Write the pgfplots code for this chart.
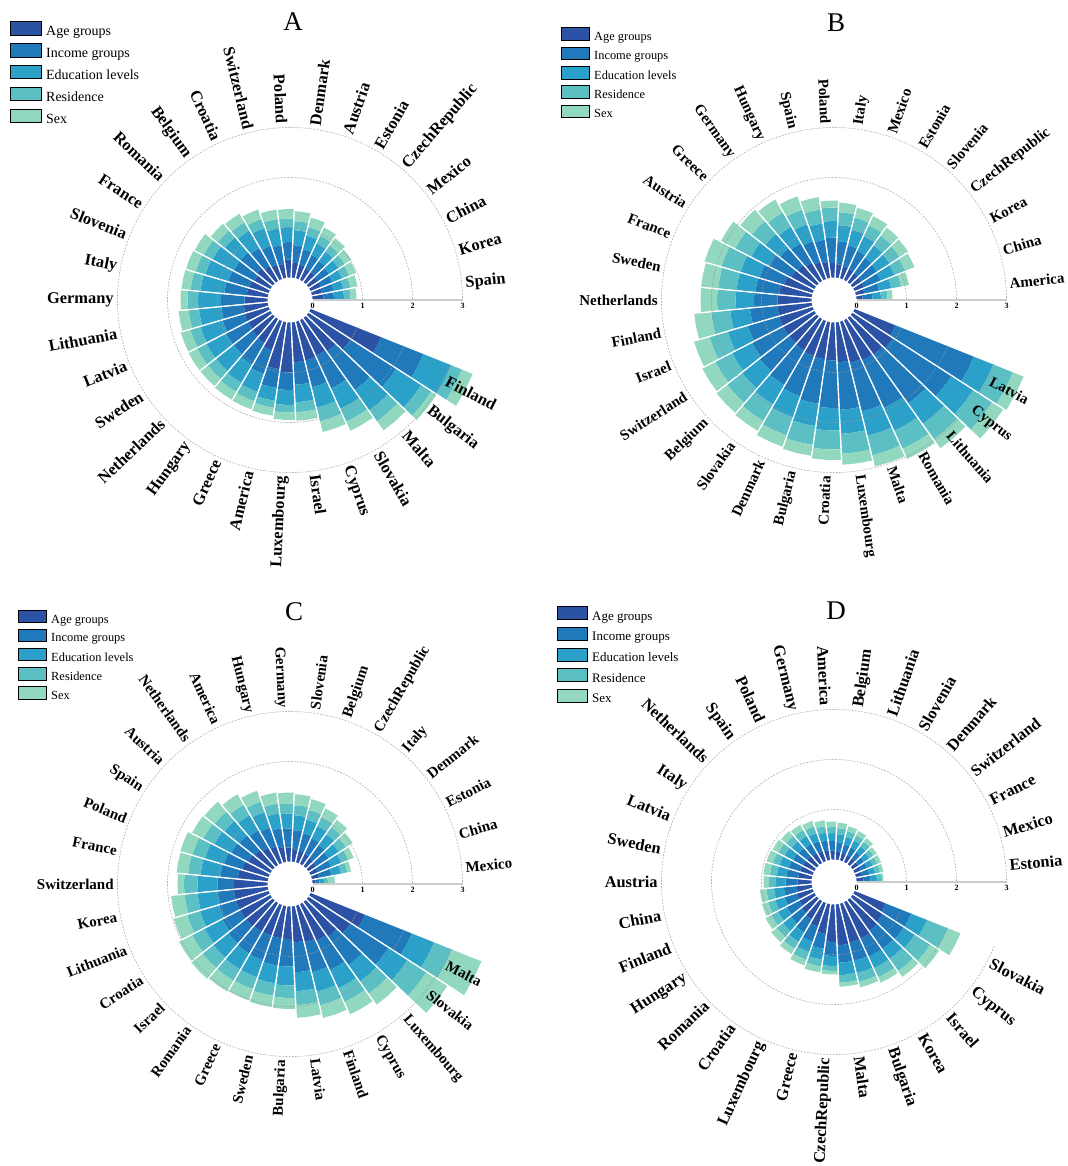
\documentclass[border=0pt]{standalone}
\usepackage{pgfplots}
\usepackage{pgfplotstable}
\pgfplotsset{compat=1.18}
\usepackage{fontspec}
\setmainfont{Liberation Serif}

\definecolor{cAge}{HTML}{2B52A4}
\definecolor{cInc}{HTML}{1F79BB}
\definecolor{cEdu}{HTML}{2BA1C9}
\definecolor{cRes}{HTML}{5BBFC3}
\definecolor{cSex}{HTML}{92D8BE}
\definecolor{cGrid}{HTML}{9A9A9A}

\newcommand\labA{\fontsize{8.2}{9}\selectfont\bfseries}
\newcommand\labB{\fontsize{7.5}{8.5}\selectfont\bfseries}
\newcommand\tickfont{\fontsize{4}{4.5}\selectfont\bfseries}

\pgfplotstableread{
name a b c d e
Finland 1.52 0.91 0.60 0.23 0.23
Bulgaria 1.00 1.08 0.60 0.24 0.12
Malta 0.82 0.95 0.50 0.27 0.22
Slovakia 0.78 0.72 0.45 0.28 0.20
Cyprus 0.80 0.55 0.42 0.28 0.22
Israel 0.80 0.45 0.35 0.20 0.17
Luxembourg 1.00 0.35 0.30 0.15 0.15
America 0.95 0.38 0.26 0.14 0.16
Greece 0.62 0.50 0.38 0.20 0.17
Hungary 0.55 0.50 0.42 0.21 0.18
Netherlands 0.52 0.48 0.44 0.21 0.19
Sweden 0.50 0.50 0.44 0.21 0.19
Latvia 0.50 0.46 0.46 0.21 0.20
Lithuania 0.48 0.45 0.45 0.21 0.20
Germany 0.46 0.47 0.46 0.21 0.14
Italy 0.42 0.45 0.48 0.20 0.18
Slovenia 0.40 0.44 0.48 0.20 0.20
France 0.36 0.46 0.48 0.20 0.20
Romania 0.40 0.42 0.40 0.18 0.18
Belgium 0.34 0.42 0.40 0.19 0.20
Croatia 0.30 0.40 0.38 0.19 0.20
Switzerland 0.28 0.38 0.34 0.19 0.19
Poland 0.36 0.35 0.30 0.17 0.19
Denmark 0.30 0.35 0.30 0.18 0.20
Austria 0.28 0.32 0.28 0.17 0.20
Estonia 0.25 0.30 0.25 0.17 0.18
CzechRepublic 0.25 0.27 0.23 0.15 0.18
Mexico 0.22 0.27 0.22 0.15 0.16
China 0.22 0.25 0.21 0.15 0.15
Korea 0.20 0.24 0.20 0.14 0.15
Spain 0.22 0.21 0.20 0.13 0.12
}\tabA

\pgfplotstableread{
name a b c d e
Latvia 0.88 1.69 0.42 0.42 0.23
Cyprus 0.95 1.40 0.52 0.45 0.26
Lithuania 0.90 1.20 0.50 0.38 0.22
Romania 0.88 1.05 0.50 0.40 0.22
Malta 0.85 1.00 0.50 0.40 0.23
Luxembourg 0.80 0.95 0.48 0.40 0.22
Croatia 0.76 0.95 0.45 0.38 0.21
Bulgaria 0.75 0.90 0.45 0.38 0.22
Denmark 0.74 0.85 0.45 0.38 0.24
Slovakia 0.72 0.80 0.45 0.38 0.23
Belgium 0.70 0.75 0.45 0.38 0.27
Switzerland 0.70 0.70 0.45 0.38 0.29
Israel 0.70 0.65 0.42 0.38 0.32
Finland 0.69 0.55 0.40 0.38 0.34
Netherlands 0.68 0.47 0.37 0.37 0.33
Sweden 0.65 0.48 0.38 0.37 0.34
France 0.60 0.50 0.40 0.40 0.35
Austria 0.52 0.50 0.40 0.36 0.32
Greece 0.48 0.45 0.38 0.34 0.30
Germany 0.42 0.45 0.38 0.33 0.30
Hungary 0.36 0.44 0.36 0.31 0.28
Spain 0.32 0.45 0.33 0.28 0.25
Poland 0.29 0.51 0.33 0.27 0.14
Italy 0.27 0.46 0.32 0.26 0.19
Mexico 0.25 0.43 0.32 0.25 0.20
Estonia 0.24 0.40 0.32 0.24 0.20
Slovenia 0.22 0.38 0.30 0.24 0.20
CzechRepublic 0.21 0.37 0.30 0.24 0.20
Korea 0.20 0.36 0.30 0.23 0.20
China 0.17 0.30 0.25 0.20 0.16
America 0.12 0.20 0.17 0.13 0.10
}\tabB

\pgfplotstableread{
name a b c d e
Malta 1.17 1.01 0.48 0.39 0.63
Slovakia 1.00 0.90 0.45 0.45 0.50
Luxembourg 0.85 0.70 0.40 0.30 0.27
Cyprus 0.80 0.65 0.40 0.30 0.27
Finland 0.75 0.62 0.40 0.28 0.26
Latvia 0.72 0.60 0.38 0.28 0.25
Bulgaria 0.65 0.55 0.38 0.25 0.22
Sweden 0.65 0.55 0.36 0.25 0.23
Greece 0.65 0.52 0.36 0.25 0.24
Romania 0.66 0.50 0.37 0.26 0.25
Israel 0.68 0.45 0.38 0.28 0.28
Croatia 0.68 0.40 0.40 0.28 0.29
Lithuania 0.68 0.35 0.40 0.27 0.28
Korea 0.68 0.33 0.40 0.26 0.27
Switzerland 0.67 0.33 0.40 0.27 0.13
France 0.60 0.35 0.40 0.25 0.23
Poland 0.55 0.38 0.40 0.26 0.25
Spain 0.50 0.38 0.38 0.25 0.25
Austria 0.45 0.40 0.38 0.25 0.26
Netherlands 0.40 0.40 0.35 0.24 0.24
America 0.35 0.40 0.33 0.22 0.23
Hungary 0.30 0.38 0.30 0.20 0.22
Germany 0.28 0.38 0.30 0.20 0.22
Slovenia 0.25 0.38 0.30 0.20 0.22
Belgium 0.24 0.36 0.28 0.20 0.22
CzechRepublic 0.22 0.34 0.27 0.20 0.19
Italy 0.20 0.32 0.26 0.18 0.18
Denmark 0.18 0.30 0.24 0.17 0.16
Estonia 0.16 0.28 0.22 0.15 0.12
China 0.14 0.26 0.19 0.13 0.08
Mexico 0.06 0.08 0.09 0.08 0.14
}\tabC

\pgfplotstableread{
name a b c d e
Slovakia 0.67 0.55 0.34 0.45 0.27
Cyprus 0.72 0.50 0.26 0.37 0.21
Israel 0.75 0.45 0.25 0.30 0.14
Korea 0.80 0.40 0.25 0.20 0.12
Bulgaria 0.80 0.38 0.25 0.18 0.11
Malta 0.82 0.35 0.25 0.15 0.08
CzechRepublic 0.75 0.28 0.20 0.10 0.07
Greece 0.60 0.30 0.22 0.14 0.12
Luxembourg 0.50 0.32 0.22 0.16 0.12
Croatia 0.42 0.30 0.22 0.16 0.12
Romania 0.38 0.28 0.20 0.16 0.14
Hungary 0.34 0.28 0.20 0.15 0.13
Finland 0.32 0.26 0.20 0.15 0.13
China 0.30 0.26 0.20 0.15 0.13
Austria 0.28 0.24 0.19 0.14 0.11
Sweden 0.27 0.24 0.19 0.14 0.13
Latvia 0.26 0.24 0.19 0.14 0.13
Italy 0.25 0.23 0.19 0.14 0.13
Netherlands 0.24 0.22 0.18 0.14 0.13
Spain 0.22 0.22 0.18 0.14 0.12
Poland 0.20 0.22 0.17 0.14 0.12
Germany 0.19 0.20 0.16 0.13 0.12
America 0.18 0.19 0.16 0.12 0.11
Belgium 0.17 0.18 0.16 0.12 0.11
Lithuania 0.16 0.17 0.15 0.12 0.10
Slovenia 0.15 0.17 0.15 0.11 0.10
Denmark 0.14 0.16 0.14 0.11 0.09
Switzerland 0.13 0.14 0.13 0.10 0.08
France 0.13 0.14 0.12 0.10 0.08
Mexico 0.13 0.14 0.12 0.10 0.07
Estonia 0.14 0.14 0.13 0.10 0.03
}\tabD

\newcommand{\polyseg}[3]{%
  \edef\tmp{\noexpand\addplot[fill=#1, draw=none, data cs=polar, forget plot] coordinates {(\tone,#2) (\tone,#3) (\tmid,#3) (\ttwo,#3) (\ttwo,#2) (\tmid,#2)};}\tmp}

\newcommand{\getangles}{%
  \pgfmathsetmacro{\tone}{-(\k+2)*360/33}%
  \pgfmathsetmacro{\tmid}{-(\k+2.5)*360/33}%
  \pgfmathsetmacro{\ttwo}{-(\k+3)*360/33}}

\newcommand{\getradii}[1]{%
  \pgfplotstablegetelem{\k}{a}\of{#1}\pgfmathsetmacro{\rA}{0.45+\pgfplotsretval}%
  \pgfplotstablegetelem{\k}{b}\of{#1}\pgfmathsetmacro{\rB}{\rA+\pgfplotsretval}%
  \pgfplotstablegetelem{\k}{c}\of{#1}\pgfmathsetmacro{\rC}{\rB+\pgfplotsretval}%
  \pgfplotstablegetelem{\k}{d}\of{#1}\pgfmathsetmacro{\rD}{\rC+\pgfplotsretval}%
  \pgfplotstablegetelem{\k}{e}\of{#1}\pgfmathsetmacro{\rE}{\rD+\pgfplotsretval}}

\newcommand{\drawpanel}[2]{%
  \pgfplotsforeachungrouped \k in {0,...,30}{%
    \getangles\getradii{#1}%
    \polyseg{cAge}{0.45}{\rA}\polyseg{cInc}{\rA}{\rB}\polyseg{cEdu}{\rB}{\rC}%
    \polyseg{cRes}{\rC}{\rD}\polyseg{cSex}{\rD}{\rE}%
  }%
  \pgfplotsforeachungrouped \k in {0,...,30}{%
    \getangles\getradii{#1}%
    \edef\tmp{\noexpand\addplot[draw=white, line width=0.55pt, data cs=polar, forget plot] coordinates {(\tone,0.44) (\tone,\rE)};}\tmp
    \edef\tmp{\noexpand\addplot[draw=white, line width=0.55pt, data cs=polar, forget plot] coordinates {(\ttwo,0.44) (\ttwo,\rE)};}\tmp
  }%
  \draw[cGrid, line width=0.3pt, dash pattern=on 0.9pt off 0.7pt, opacity=0.8] (axis cs:1.3461,-0.5390) arc[start angle=-21.818, end angle=-360, radius=36.25pt];
  \draw[cGrid, line width=0.3pt, dash pattern=on 0.9pt off 0.7pt, opacity=0.8] (axis cs:2.2745,-0.9108) arc[start angle=-21.818, end angle=-360, radius=61.25pt];
  \draw[cGrid, line width=0.3pt, dash pattern=on 0.9pt off 0.7pt, opacity=0.8] (axis cs:3.2028,-1.2825) arc[start angle=-21.818, end angle=-360, radius=86.25pt];
  \addplot[draw=gray!40, line width=0.6pt, forget plot] coordinates {(0.45,0) (3.45,0)};
  \node[font=\tickfont, inner sep=0pt] at (axis cs:0.45,-0.11) {0};
  \node[font=\tickfont, inner sep=0pt] at (axis cs:1.45,-0.11) {1};
  \node[font=\tickfont, inner sep=0pt] at (axis cs:2.45,-0.11) {2};
  \node[font=\tickfont, inner sep=0pt] at (axis cs:3.45,-0.11) {3};
  \pgfplotsforeachungrouped \k in {0,...,30}{%
    \getangles
    \pgfplotstablegetelem{\k}{name}\of{#1}\let\cname\pgfplotsretval
    \pgfmathsetmacro{\lx}{3.52*cos(\tmid)}%
    \pgfmathsetmacro{\ly}{3.52*sin(\tmid)}%
    \pgfmathtruncatemacro{\side}{(\tmid>-90)+(\tmid<-270)}%
    \ifnum\side>0
      \pgfmathsetmacro{\rot}{\tmid+360*(\tmid<-270)}\def\anc{west}%
    \else
      \pgfmathsetmacro{\rot}{\tmid+180}\def\anc{east}%
    \fi
    \edef\tmp{\noexpand\node[rotate=\rot, anchor=\anc, inner sep=0pt, font=\noexpand#2] at (axis cs:\lx,\ly) {\cname};}\tmp
  }%
  \addlegendimage{fill=cAge}\addlegendentry{Age groups}
  \addlegendimage{fill=cInc}\addlegendentry{Income groups}
  \addlegendimage{fill=cEdu}\addlegendentry{Education levels}
  \addlegendimage{fill=cRes}\addlegendentry{Residence}
  \addlegendimage{fill=cSex}\addlegendentry{Sex}
}

\pgfplotsset{panel/.style={
  x=25pt, y=25pt, xmin=-6, xmax=6, ymin=-6, ymax=6,
  hide axis, clip=false, anchor=center,
  legend cell align=left,
  legend style={draw=none, fill=none, anchor=north west, inner sep=0pt,
    nodes={inner xsep=2pt, inner ysep=0pt}},
}}

\begin{document}
\begin{tikzpicture}
\path[use as bounding box] (0,0) rectangle (533.5pt,-583pt);

\begin{axis}[panel, at={(145pt,-150pt)},
  legend image code/.code={\fill[#1] (0pt,-1.3pt) rectangle (15.5pt,5.5pt);},
  legend style={at={(0.0333,0.9650)}, font=\fontsize{7}{8}\selectfont, row sep=2.1pt}]
\drawpanel{\tabA}{\labA}
\node[font=\fontsize{13.5}{14}\selectfont, inner sep=0pt] at (axis cs:0.06,5.56) {A};
\end{axis}

\begin{axis}[panel, at={(417pt,-150pt)},
  legend image code/.code={\fill[#1] (0pt,-1.2pt) rectangle (14pt,5.2pt);},
  legend style={at={(0.045,0.955)}, font=\fontsize{6.2}{7}\selectfont, row sep=1.4pt}]
\drawpanel{\tabB}{\labB}
\node[font=\fontsize{13.5}{14}\selectfont, inner sep=0pt] at (axis cs:0.04,5.54) {B};
\end{axis}

\begin{axis}[panel, at={(145pt,-442pt)},
  legend image code/.code={\fill[#1] (0pt,-1.2pt) rectangle (14pt,5.2pt);},
  legend style={at={(0.0467,0.9580)}, font=\fontsize{6.2}{7}\selectfont, row sep=1.3pt}]
\drawpanel{\tabC}{\labB}
\node[font=\fontsize{13.5}{14}\selectfont, inner sep=0pt] at (axis cs:0.08,5.44) {C};
\end{axis}

\begin{axis}[panel, at={(417pt,-441pt)},
  legend image code/.code={\fill[#1] (0pt,-1.2pt) rectangle (15pt,5.3pt);},
  legend style={at={(0.0383,0.9600)}, font=\fontsize{6.5}{7.5}\selectfont, row sep=1.9pt}]
\drawpanel{\tabD}{\labA}
\node[font=\fontsize{13.5}{14}\selectfont, inner sep=0pt] at (axis cs:0.04,5.42) {D};
\end{axis}
\end{tikzpicture}
\end{document}
